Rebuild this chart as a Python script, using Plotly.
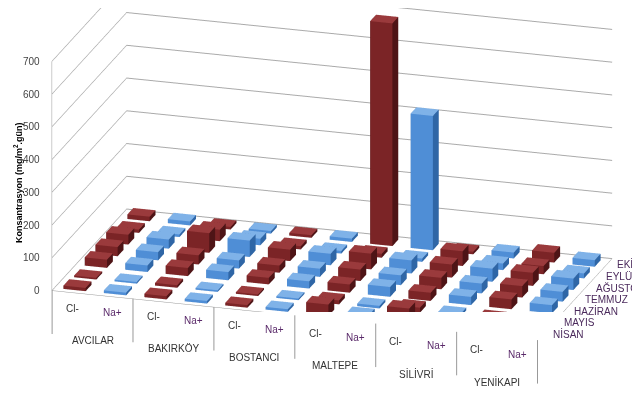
import plotly.graph_objects as go

stations = ["AVCILAR", "BAKIRKÖY", "BOSTANCI", "MALTEPE", "SİLİVRİ", "YENİKAPI"]
ions = ["Cl-", "Na+"]
months = ["NİSAN", "MAYIS", "HAZİRAN", "TEMMUZ", "AĞUSTOS", "EYLÜL", "EKİM"]
z_ticks = [0, 100, 200, 300, 400, 500, 600, 700]

# concentration, one row per station, NİSAN -> EKİM
cl_values = [
    [10, 5, 25, 28, 30, 10, 14],
    [10, 8, 25, 28, 60, 35, 8],
    [8, 5, 20, 22, 35, 10, 8],
    [35, 12, 25, 35, 48, 12, 680],
    [48, 15, 25, 35, 40, 45, 8],
    [12, 8, 30, 35, 40, 25, 30],
]
na_values = [
    [8, 5, 20, 25, 28, 8, 12],
    [8, 5, 25, 25, 50, 20, 8],
    [8, 5, 22, 25, 35, 8, 10],
    [15, 8, 30, 30, 40, 10, 410],
    [20, 8, 25, 30, 40, 20, 18],
    [8, 8, 25, 30, 35, 15, 20],
]

RED = {"top": "#9a3a3c", "front": "#7b2426", "side": "#4e1416"}
BLUE = {"top": "#7fb2e8", "front": "#4f8ed6", "side": "#2f66a6"}
BAR_W = 0.55
BAR_D = 0.55
FONT = "Liberation Sans"


def bars_mesh(values, offset, colors, name):
    X, Y, Z, I, J, K, FC = [], [], [], [], [], [], []
    for s, row in enumerate(values):
        xc = 2 * s + offset
        for m, h in enumerate(row):
            x0, x1 = xc - BAR_W / 2, xc + BAR_W / 2
            y0, y1 = m - BAR_D / 2, m + BAR_D / 2
            n = len(X)
            X += [x0, x1, x1, x0, x0, x1, x1, x0]
            Y += [y0, y0, y1, y1, y0, y0, y1, y1]
            Z += [0, 0, 0, 0, h, h, h, h]
            faces = [
                ((0, 1, 2), "side"), ((0, 2, 3), "side"),
                ((4, 5, 6), "top"), ((4, 6, 7), "top"),
                ((0, 1, 5), "front"), ((0, 5, 4), "front"),
                ((3, 2, 6), "side"), ((3, 6, 7), "side"),
                ((0, 3, 7), "side"), ((0, 7, 4), "side"),
                ((1, 2, 6), "side"), ((1, 6, 5), "side"),
            ]
            for (a, b, c), key in faces:
                I.append(n + a); J.append(n + b); K.append(n + c)
                FC.append(colors[key])
    return go.Mesh3d(x=X, y=Y, z=Z, i=I, j=J, k=K, facecolor=FC,
                     flatshading=True, name=name, hoverinfo="skip",
                     lighting=dict(ambient=1, diffuse=0, specular=0,
                                   roughness=1, fresnel=0))


fig = go.Figure()
fig.add_trace(bars_mesh(cl_values, 0, RED, "Cl-"))
fig.add_trace(bars_mesh(na_values, 1, BLUE, "Na+"))

ncat = 2 * len(stations)
xmax = ncat - 0.5
ymax = len(months) - 0.5

anns = []
for s, st in enumerate(stations):
    for k, ion in enumerate(ions):
        anns.append(dict(x=2 * s + k, y=-0.499, z=0, text=ion, showarrow=False,
                         yshift=-16, font=dict(size=10, family=FONT,
                                               color="#333333" if k == 0 else "#5a2a6a")))
    anns.append(dict(x=2 * s + 0.5, y=-0.499, z=0, text=st, showarrow=False,
                     yshift=-46, font=dict(size=10, family=FONT, color="#333333")))
for b in range(len(stations) + 1):
    anns.append(dict(x=min(max(2 * b - 0.5, -0.499), xmax - 0.001), y=-0.499, z=0,
                     text="", showarrow=True, arrowhead=0, arrowwidth=1,
                     arrowcolor="#999999", ax=0, ay=45))
for m, mon in enumerate(months):
    anns.append(dict(x=xmax - 0.001, y=m, z=0, text=mon, showarrow=False,
                     xanchor="left", xshift=8,
                     font=dict(size=10, family=FONT, color="#4b2a5c")))
for v in z_ticks:
    anns.append(dict(x=-0.499, y=-0.499, z=v, text=str(v), showarrow=False,
                     xanchor="right", xshift=-10,
                     font=dict(size=10, family=FONT, color="#444444")))

fig.update_layout(
    width=640, height=402,
    margin=dict(l=0, r=0, t=0, b=0),
    paper_bgcolor="white",
    showlegend=False,
    scene=dict(
        domain=dict(x=[0.044, 0.969], y=[0.244, 1.0]),
        xaxis=dict(range=[-0.5, xmax], showgrid=False, showticklabels=False,
                   showbackground=False, showline=True, linecolor="#999999",
                   zeroline=False, title=dict(text=""), showspikes=False),
        yaxis=dict(range=[-0.5, ymax], showgrid=False, showticklabels=False,
                   showbackground=False, showline=True, linecolor="#999999",
                   zeroline=False, title=dict(text=""), showspikes=False),
        zaxis=dict(range=[0, 700], tickvals=z_ticks,
                   showgrid=True, gridcolor="#aaaaaa", showbackground=False,
                   showline=True, linecolor="#999999", zeroline=False,
                   showticklabels=False,
                   title=dict(text=""), showspikes=False),
        aspectmode="manual",
        aspectratio=dict(x=3.34, y=1.68, z=1.6),
        camera=dict(eye=dict(x=0.331, y=-1.082, z=0.401),
                    center=dict(x=0, y=0, z=0),
                    projection=dict(type="orthographic")),
        annotations=anns,
    ),
    annotations=[dict(x=0.016, y=0.565, xref="paper", yref="paper",
                      xanchor="center", yanchor="middle",
                      text="<b>Konsantrasyon (mg/m<sup>2</sup>.gün)</b>",
                      textangle=-90, showarrow=False,
                      font=dict(size=9, family=FONT, color="#000000"))],
)

fig.write_html("out.html")
